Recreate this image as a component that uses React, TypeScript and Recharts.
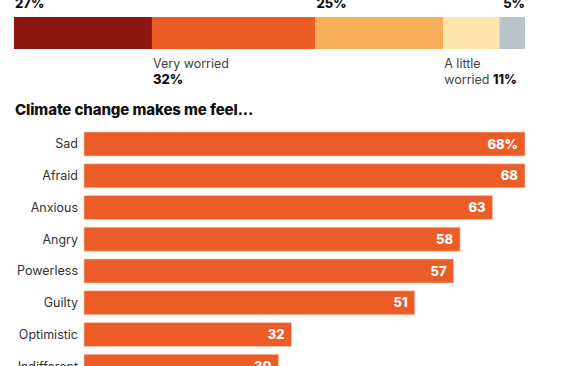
import { BarChart, Bar, XAxis, YAxis, LabelList } from "recharts";

const worryLevels = ["Extremely worried", "Very worried", "Somewhat worried", "A little worried", "Not worried"];
const worryShares = [27, 32, 25, 11, 5];
const worryColors = ["#8b1710", "#eb5b25", "#f8ad5b", "#ffe5a9", "#bbc3cc"];

const feelings = ["Sad", "Afraid", "Anxious", "Angry", "Powerless", "Guilty", "Optimistic", "Indifferent"];
const feelingShares = [68, 68, 63, 58, 57, 51, 32, 30];

const FONT = "Inter, 'Noto Sans', sans-serif";

const worryRow = [
  worryLevels.reduce((row: Record<string, number | string>, level, i) => {
    row[level] = worryShares[i];
    return row;
  }, { name: "all" }),
];

const feelingData = feelings.map((name, i) => ({
  name,
  value: feelingShares[i],
  label: i === 0 ? `${feelingShares[i]}%` : `${feelingShares[i]}`,
}));

// where each segment's label goes: above (start/end aligned) or below (two lines)
const labelSpots: Record<string, { pos: "top" | "topEnd" | "bottom"; lines?: string[] }> = {
  "Extremely worried": { pos: "top" },
  "Very worried": { pos: "bottom", lines: ["Very worried"] },
  "Somewhat worried": { pos: "top" },
  "A little worried": { pos: "bottom", lines: ["A little", "worried"] },
  "Not worried": { pos: "topEnd" },
};

function segmentLabel(level: string) {
  return (props: any) => {
    const { x, y, width, height, value } = props;
    const spot = labelSpots[level];
    const pct = `${value}%`;
    if (spot.pos === "top") {
      return (
        <text x={x + 1} y={y - 9} fontFamily={FONT} fontSize={13} fontWeight={800} fill="#111">
          {pct}
        </text>
      );
    }
    if (spot.pos === "topEnd") {
      return (
        <text x={x + width} y={y - 9} textAnchor="end" fontFamily={FONT} fontSize={13} fontWeight={800} fill="#111">
          {pct}
        </text>
      );
    }
    const lines = spot.lines || [];
    const base = y + height + 19;
    if (lines.length === 1) {
      return (
        <g>
          <text x={x + 1} y={base} fontFamily={FONT} fontSize={12.5} fill="#444">{lines[0]}</text>
          <text x={x + 1} y={base + 16} fontFamily={FONT} fontSize={13} fontWeight={800} fill="#111">{pct}</text>
        </g>
      );
    }
    return (
      <g>
        <text x={x + 1} y={base} fontFamily={FONT} fontSize={12.5} fill="#444">{lines[0]}</text>
        <text x={x + 1} y={base + 16} fontFamily={FONT} fontSize={12.5} fill="#444">
          {lines[1]}{" "}
          <tspan fontWeight={800} fill="#111">{pct}</tspan>
        </text>
      </g>
    );
  };
}

export default function App() {
  return (
    <div style={{ position: "absolute", left: 0, top: 0, width: 580, height: 366, overflow: "hidden", background: "#fff", fontFamily: FONT }}>
      <div style={{ position: "absolute", left: 0, top: 0 }}>
        <BarChart width={580} height={100} data={worryRow} layout="vertical" margin={{ top: 17, right: 55, left: 14, bottom: 51 }} barCategoryGap={0}>
          <XAxis type="number" domain={[0, 100]} hide />
          <YAxis type="category" dataKey="name" hide />
          {worryLevels.map((level, i) => (
            <Bar key={level} dataKey={level} stackId="w" fill={worryColors[i]} isAnimationActive={false}>
              <LabelList dataKey={level} content={segmentLabel(level)} />
            </Bar>
          ))}
        </BarChart>
      </div>

      <div style={{ position: "absolute", left: 15, top: 101, fontSize: 15, lineHeight: "18px", fontWeight: 800, color: "#111", letterSpacing: -0.1 }}>
        Climate change makes me feel...
      </div>

      <div style={{ position: "absolute", left: 0, top: 128 }}>
        <BarChart width={580} height={254} data={feelingData} layout="vertical" margin={{ top: 0, right: 55, left: 0, bottom: 0 }} barSize={24}>
          <XAxis type="number" domain={[0, 68]} hide />
          <YAxis
            type="category"
            dataKey="name"
            width={84}
            axisLine={false}
            tickLine={false}
            tickMargin={0}
            tick={{ fill: "#333", fontSize: 12.5, fontFamily: FONT }}
          />
          <Bar dataKey="value" fill="#eb5c27" stroke="#fbd2c0" strokeWidth={0.6} isAnimationActive={false}>
            <LabelList dataKey="label" position="insideRight" offset={7} fill="#fff" fontSize={13} fontWeight={800} fontFamily={FONT} />
          </Bar>
        </BarChart>
      </div>
    </div>
  );
}
